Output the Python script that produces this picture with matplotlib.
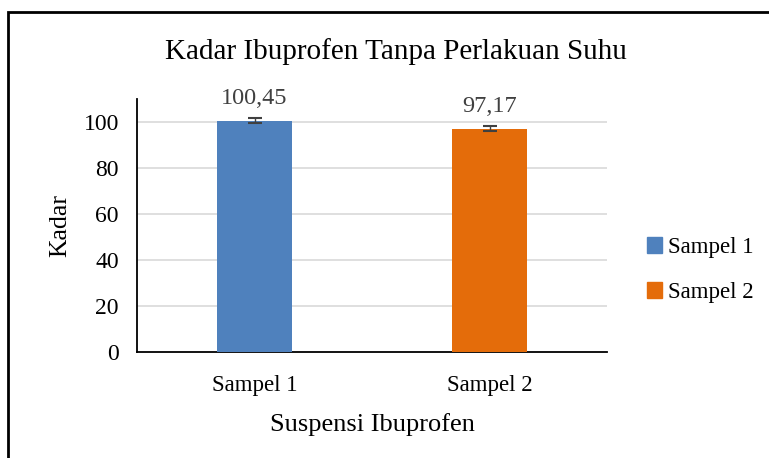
import matplotlib
matplotlib.use("Agg")
import matplotlib.pyplot as plt
from matplotlib.patches import Rectangle

categories = ["Sampel 1", "Sampel 2"]
values = [100.45, 97.17]
errors = [1.1, 1.0]
labels = ["100,45", "97,17"]
colors = ["#4F81BD", "#E46C0A"]
yticks = [0, 20, 40, 60, 80, 100]

plt.rcParams['font.family'] = ['Liberation Serif', 'DejaVu Serif']

fig = plt.figure(figsize=(7.69, 4.58), dpi=100)
W, H = 769, 458
ax = fig.add_axes([137 / W, 1 - 352 / H, (607 - 137) / W, (352 - 99) / H])

x = list(range(len(categories)))
ax.bar(x, values, width=0.315, color=colors, zorder=3)
ax.errorbar(x, values, yerr=errors, fmt='none', ecolor='#404040', elinewidth=1,
            capsize=4.8, capthick=1.5, zorder=4)
for xi, v, lab in zip(x, values, labels):
    ax.annotate(lab, (xi, v), xytext=(0, 8.5), textcoords='offset points',
                ha='center', va='bottom', fontsize=17.5, color='#404040')

ax.set_xlim(-0.5, 1.5)
ax.set_ylim(0, 110)
ax.set_yticks(yticks)
ax.set_xticks(x)
ax.set_xticklabels(categories, fontsize=16.5)
ax.tick_params(axis='y', labelsize=17, length=0, pad=13)
ax.tick_params(axis='x', length=0, pad=16.5)
for yt in yticks[1:]:
    ax.axhline(yt, color='#D9D9D9', lw=1.2, zorder=1)
for s in ['top', 'right']:
    ax.spines[s].set_visible(False)
ax.spines['left'].set_linewidth(1.3)
ax.spines['bottom'].set_linewidth(1.3)
ax.set_ylabel("Kadar", fontsize=18.5, labelpad=9)
ax.set_xlabel("Suspensi Ibuprofen", fontsize=19, labelpad=12)

fig.text(396 / W, 1 - 52 / H, "Kadar Ibuprofen Tanpa Perlakuan Suhu", ha='center',
         va='center', fontsize=21)

handles = [Rectangle((0, 0), 1, 1, color=c) for c in colors]
fig.legend(handles, categories, loc='center left', bbox_to_anchor=(626 / W, 1 - 270 / H),
           frameon=False, fontsize=16.5, handlelength=0.65, handleheight=0.65,
           handletextpad=0.3, labelspacing=1.05)

fig.add_artist(Rectangle((8 / W, -0.01), 1.0, 1 - 12 / H + 0.01, transform=fig.transFigure,
                         fill=False, edgecolor='black', lw=2))

fig.savefig("out.png", dpi=100)
